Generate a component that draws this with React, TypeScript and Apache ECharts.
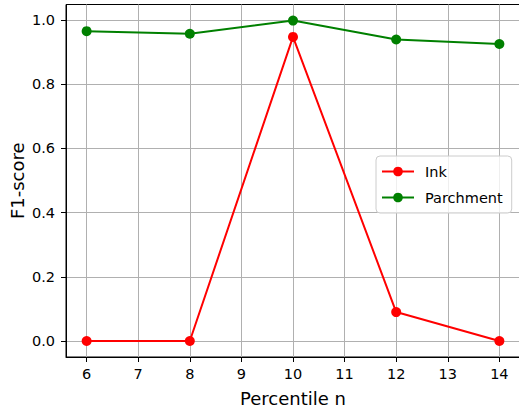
import React, { useEffect, useRef } from "react";
import * as echarts from "echarts";

const percentiles = [6, 8, 10, 12, 14];
const inkF1 = [0.0, 0.0, 0.947, 0.09, 0.0];
const parchmentF1 = [0.965, 0.957, 0.998, 0.939, 0.925];
const xTicks = [6, 7, 8, 9, 10, 11, 12, 13, 14];
const yTicks = [0.0, 0.2, 0.4, 0.6, 0.8, 1.0];

const FONT = "DejaVu Sans";

export default function App() {
  const ref = useRef<HTMLDivElement>(null);
  useEffect(() => {
    if (!ref.current) return;
    const chart = echarts.init(ref.current, null, { renderer: "svg" });
    chart.setOption({
      animation: false,
      backgroundColor: "#ffffff",
      textStyle: { fontFamily: FONT },
      grid: {
        left: 66,
        right: -1,
        top: 4.5,
        bottom: 50,
        show: true,
        borderColor: "#000000",
        borderWidth: 1,
        containLabel: false,
        outerBoundsMode: "none",
      },
      legend: {
        orient: "vertical",
        left: 376,
        top: 156,
        padding: [8, 9, 8, 5],
        itemWidth: 32,
        itemHeight: 12,
        itemGap: 11,
        backgroundColor: "rgba(255,255,255,0.8)",
        borderColor: "#cccccc",
        borderWidth: 1,
        borderRadius: 4,
        textStyle: { fontFamily: FONT, fontSize: 14.5, color: "#000", padding: [0, 0, 0, 6] },
        data: ["Ink", "Parchment"],
      },
      xAxis: {
        type: "value",
        min: 5.6,
        max: 14.4,
        name: "Percentile n",
        nameLocation: "middle",
        nameGap: 32,
        nameMoveOverlap: false,
        nameTextStyle: { fontFamily: FONT, fontSize: 18, color: "#000" },
        axisLine: { show: true, onZero: false, lineStyle: { color: "#000", width: 1 } },
        axisTick: { show: true, length: 5, customValues: xTicks, lineStyle: { color: "#000", width: 1 } },
        axisLabel: {
          customValues: xTicks,
          margin: 9,
          fontFamily: FONT,
          fontSize: 14.5,
          color: "#000",
          formatter: (v: number) => String(v),
        },
        splitLine: { show: true, lineStyle: { color: "#b0b0b0", width: 1 } },
      },
      yAxis: {
        type: "value",
        min: -0.0499,
        max: 1.048,
        name: "F1-score",
        nameLocation: "middle",
        nameGap: 40,
        nameMoveOverlap: false,
        nameTextStyle: { fontFamily: FONT, fontSize: 18, color: "#000" },
        axisLine: { show: true, onZero: false, lineStyle: { color: "#000", width: 1 } },
        axisTick: { show: true, length: 5, customValues: yTicks, lineStyle: { color: "#000", width: 1 } },
        axisLabel: {
          customValues: yTicks,
          margin: 11,
          fontFamily: FONT,
          fontSize: 14.5,
          color: "#000",
          formatter: (v: number) => v.toFixed(1),
        },
        splitLine: { show: true, lineStyle: { color: "#b0b0b0", width: 1 } },
      },
      series: [
        {
          name: "Ink",
          type: "line",
          data: percentiles.map((p, i) => [p, inkF1[i]]),
          color: "#ff0000",
          lineStyle: { color: "#ff0000", width: 2 },
          itemStyle: { color: "#ff0000" },
          symbol: "circle",
          symbolSize: 10,
          z: 3,
        },
        {
          name: "Parchment",
          type: "line",
          data: percentiles.map((p, i) => [p, parchmentF1[i]]),
          color: "#008000",
          lineStyle: { color: "#008000", width: 2 },
          itemStyle: { color: "#008000" },
          symbol: "circle",
          symbolSize: 10,
          z: 4,
        },
      ],
    });
    return () => chart.dispose();
  }, []);
  return (
    <div
      ref={ref}
      style={{ position: "fixed", left: 0, top: 0, width: 519, height: 407, background: "#fff" }}
    />
  );
}
